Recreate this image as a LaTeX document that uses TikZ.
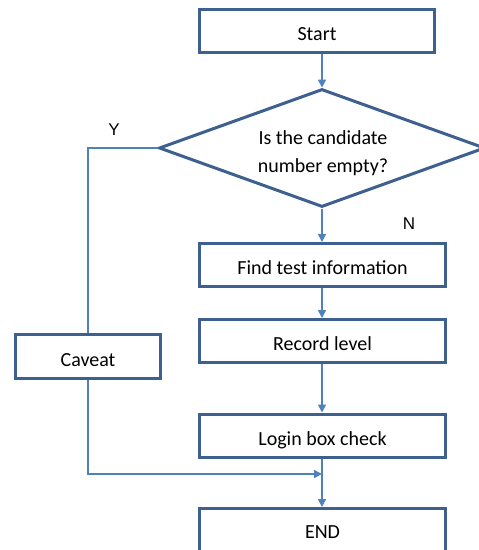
\documentclass[tikz,border=0pt]{standalone}
\usepackage{fontspec}
\setmainfont{Carlito}
\newfontfamily\ynfont{Liberation Sans}
\usetikzlibrary{arrows.meta,shapes.geometric}
\definecolor{boxblue}{RGB}{62,96,143}
\definecolor{flowblue}{RGB}{79,129,189}
\begin{document}
\begin{tikzpicture}[x=1pt,y=-1pt]
			\tikzstyle{every node}+=[inner sep=0pt]
			\tikzstyle{procbox}=[draw=boxblue, line width=3pt, rectangle, minimum width=246pt, minimum height=43pt, text height=20pt, text depth=1pt, font=\fontsize{20}{24}\selectfont]
			\tikzstyle{flow}=[draw=flowblue, line width=1.5pt, -{Triangle[width=8pt,length=8pt]}]
			\tikzstyle{plain}=[draw=flowblue, line width=1.5pt]
			\useasboundingbox (0,0) rectangle (479,550);
			\clip (0,0) rectangle (479,550);
			\fill [white] (0,0) rectangle (479,550);
			% boxes
			\node [procbox, minimum width=235pt] (start) at (317,31) {Start};
			\node [draw=boxblue, line width=3pt, diamond, minimum width=326pt, minimum height=118pt] (dec) at (322,148) {};
			\node [align=center, font=\fontsize{20}{28}\selectfont] (dectext) at (323,153) {Is the candidate\\number empty?};
			\node [procbox] (find) at (322.5,265) {Find test information};
			\node [procbox] (rec) at (322.5,341) {Record level};
			\node [procbox] (login) at (322.5,435.5) {Login box check};
			\node [procbox, minimum height=47pt, text depth=7pt] (end) at (322.5,532) {END};
			\node [procbox, minimum width=145pt, minimum height=44pt] (cav) at (88,356.5) {Caveat};
			% labels
			\node [font=\ynfont\fontsize{17}{20}\selectfont] (yes) at (114,130) {Y};
			\node [font=\ynfont\fontsize{17}{20}\selectfont] (no) at (409,224) {N};
			% arrows
			\draw [flow] (dec.north |- start.south) -- (dec.north);
			\draw [flow] (dec.south) -- (dec.south |- find.north);
			\draw [flow] (dec.south |- find.south) -- (dec.south |- rec.north);
			\draw [flow] (dec.south |- rec.south) -- (dec.south |- login.north);
			\draw [flow] (dec.south |- login.south) -- (dec.south |- end.north);
			\coordinate (join) at (322,474);
			\draw [plain] (dec.west) -| (cav.north);
			\draw [flow] (cav.south) |- (join);
\end{tikzpicture}
\end{document}
